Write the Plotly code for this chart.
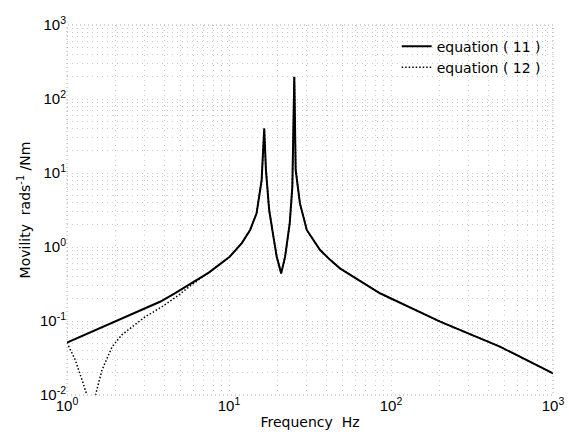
import plotly.graph_objects as go

# ---- data ----
freq_eq11 = [1, 1.5, 2, 2.4, 3.75, 4.6, 5.9, 7.5, 10.1, 12, 13.5, 14.8, 15.9, 16.5, 16.9, 17.7, 18.8, 19.7,
             21.0, 22.2, 23.7, 24.6, 25.3, 25.8, 27.4, 30.2, 36.5, 42.1, 48.4, 85.5, 201, 470, 1000]
mob_eq11 = [0.051, 0.075, 0.099, 0.119, 0.182, 0.235, 0.33, 0.45, 0.74, 1.13, 1.7, 2.85, 8.0, 40, 11, 3.16, 1.38, 0.74,
            0.44, 0.74, 2.09, 6.5, 200, 11, 3.9, 1.7, 0.91, 0.67, 0.515, 0.237, 0.098, 0.045, 0.0196]

freq_eq12_low = [1, 1.125, 1.238, 1.33, 1.42, 1.496, 1.645, 1.90, 2.18, 2.52, 3.04, 3.86, 4.89, 5.9]
mob_eq12_low = [0.051, 0.0297, 0.016, 0.0098, 0.004, 0.0098, 0.0218, 0.045, 0.065, 0.084, 0.114, 0.156, 0.224, 0.31]

# above ~7 Hz the two expressions coincide
freq_eq12 = freq_eq12_low + freq_eq11[7:]
mob_eq12 = mob_eq12_low + mob_eq11[7:]

x_tickvals = [1, 10, 100, 1000]
x_ticktext = ["10<sup>0</sup>", "10<sup>1</sup>", "10<sup>2</sup>", "10<sup>3</sup>"]
y_tickvals = [0.01, 0.1, 1, 10, 100, 1000]
y_ticktext = ["10<sup>-2</sup>", "10<sup>-1</sup>", "10<sup>0</sup>", "10<sup>1</sup>",
              "10<sup>2</sup>", "10<sup>3</sup>"]

TICKFONT = "Liberation Sans, Arial, sans-serif"
TEXTFONT = "DejaVu Sans, sans-serif"

fig = go.Figure()
fig.add_trace(go.Scatter(x=freq_eq11, y=mob_eq11, mode="lines", name="equation ( 11 )",
                         line=dict(color="black", width=2)))
fig.add_trace(go.Scatter(x=freq_eq12, y=mob_eq12, mode="lines", name="equation ( 12 )",
                         line=dict(color="black", width=1.5, dash="1.5px,2px")))

grid = dict(showgrid=True, gridcolor="#cccccc", gridwidth=1, griddash="1px,4px")
fig.update_xaxes(type="log", range=[0, 3], tickvals=x_tickvals, ticktext=x_ticktext,
                 showline=False, zeroline=False, ticks="", automargin=False,
                 minor=dict(dtick="D1", **grid), **grid,
                 title=dict(text="Frequency  Hz", font=dict(size=14, family=TEXTFONT), standoff=4),
                 tickfont=dict(size=15, family=TICKFONT))
fig.update_yaxes(type="log", range=[-2, 3], tickvals=y_tickvals, ticktext=y_ticktext,
                 showline=False, zeroline=False, ticks="", automargin=False,
                 minor=dict(dtick="D1", **grid), **grid,
                 title=dict(text="Movility  rads<sup>-1</sup> /Nm", font=dict(size=14, family=TEXTFONT), standoff=6),
                 tickfont=dict(size=15, family=TICKFONT))

# dotted frame around plot area
fig.add_shape(type="rect", xref="paper", yref="paper", x0=0, y0=0, x1=1, y1=1,
              line=dict(color="#a8a8a8", width=1, dash="1px,3px"))

fig.update_layout(
    width=569, height=442,
    margin=dict(l=67, r=16, t=25, b=47),
    paper_bgcolor="white", plot_bgcolor="white",
    font=dict(family=TEXTFONT, color="black", size=14),
    legend=dict(x=0.985, y=0.985, xanchor="right", yanchor="top",
                bgcolor="rgba(255,255,255,0)", bordercolor="#b8b8b8", borderwidth=0,
                itemwidth=30, font=dict(size=14, family=TEXTFONT), tracegroupgap=0),
    showlegend=True,
)

fig.write_html("out.html")
